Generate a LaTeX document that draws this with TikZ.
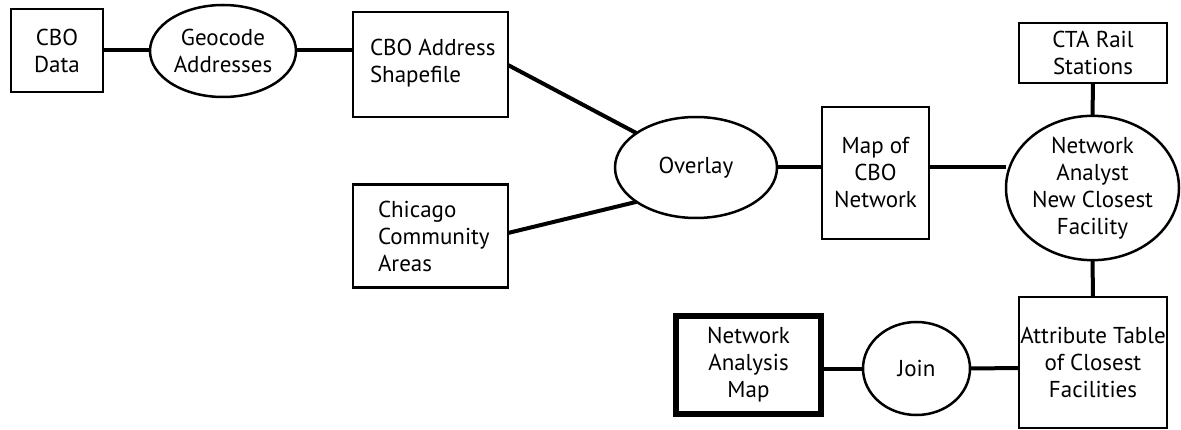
\documentclass[tikz,border=0pt]{standalone}
\usepackage{fontspec}
\setmainfont{PT Sans}
\usetikzlibrary{shapes.geometric}
\begin{document}
\begin{tikzpicture}[x=1pt,y=-1pt,
  every node/.style={font=\fontsize{23}{27}\selectfont, inner sep=0pt, outer sep=0pt},
  box/.style={draw, line width=2.5pt, rectangle, align=center},
  lbox/.style={draw, line width=2.5pt, rectangle, align=left},
  ell/.style={draw, line width=2.5pt, ellipse, align=center},
  conn/.style={line width=4pt}]
\useasboundingbox (0,0) rectangle (1181,430);
\node[box, minimum width=92pt, minimum height=83pt] (cbo) at (57,50.5) {CBO\\Data};
\node[ell, minimum width=146pt, minimum height=92pt] (geo) at (223,51) {Geocode\\Addresses};
\node[box, minimum width=155pt, minimum height=105pt] (shp) at (430.5,64.5) {};
\node[align=left, anchor=west] (shpt) at (370,63) {CBO Address\\Shapefile};
\node[box, minimum width=155pt, minimum height=103pt] (chi) at (430.5,236) {};
\node[align=left, anchor=west] (chit) at (378,236) {Chicago\\Community\\Areas};
\node[ell, minimum width=162pt, minimum height=101pt] (ovl) at (696,167.5) {Overlay};
\node[box, minimum width=107pt, minimum height=132pt] (map) at (875.5,173) {Map of\\CBO\\Network};
\node[box, minimum width=148pt, minimum height=60pt] (cta) at (1093,53) {CTA Rail\\Stations};
\node[ell, minimum width=173pt, minimum height=142pt] (nac) at (1092.5,188) {Network\\Analyst\\New Closest\\Facility};
\node[box, minimum width=148pt, minimum height=131pt] (att) at (1093,362.5) {Attribute Table\\of Closest\\Facilities};
\node[ell, minimum width=107pt, minimum height=93pt] (join) at (916.5,368.5) {Join};
\node[draw, line width=6pt, minimum width=145pt, minimum height=98pt, align=center] (nam) at (748.5,365) {Network\\Analysis\\Map};
\draw[conn] (cbo.east |- 0,50) -- (geo.west |- 0,50);
\draw[conn] (geo.east |- 0,50) -- (shp.west |- 0,50);
\draw[conn] (shp.east |- 0,65) -- (ovl.150);
\draw[conn] (chi.east |- 0,233) -- (ovl.210);
\draw[conn] (ovl.east) -- (map.west |- ovl.east);
\draw[conn] (map.east |- 0,167) -- (nac.west |- 0,167);
\draw[conn] (cta.south) -- (nac.north);
\draw[conn] (nac.south) -- (att.north);
\draw[conn] (att.west |- 0,368) -- (join.east);
\draw[conn] (join.west) -- (nam.east |- join.west);
\end{tikzpicture}
\end{document}
